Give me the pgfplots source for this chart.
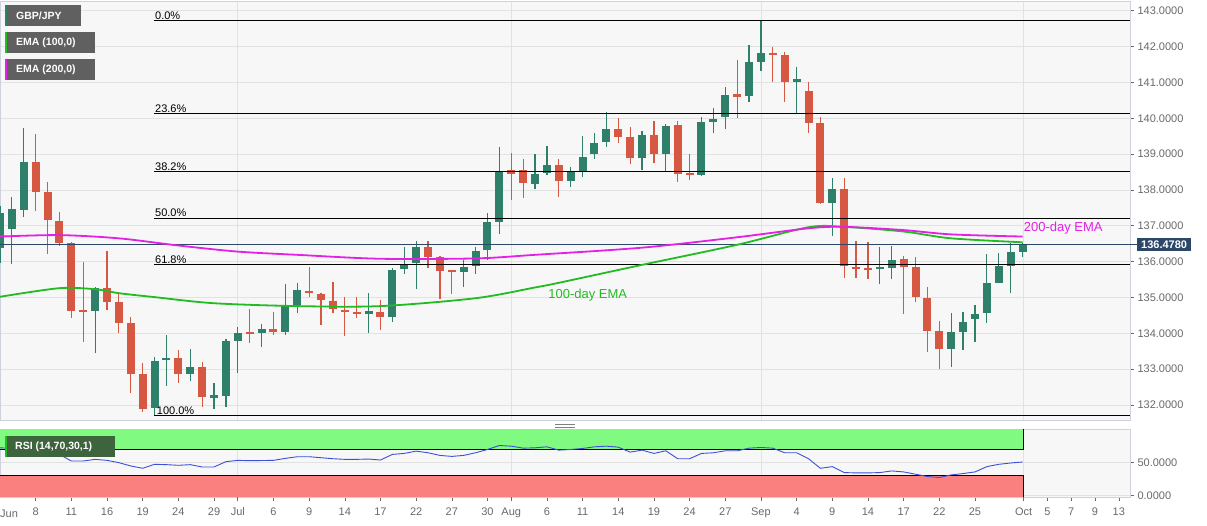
\documentclass[border=0pt]{standalone}
\usepackage{fontspec}
\setmainfont{Liberation Sans}
\usepackage{pgfplots}
\usepackage{pgfplotstable}
\pgfplotsset{compat=1.18}

\definecolor{upc}{RGB}{46,128,106}
\definecolor{dnc}{RGB}{214,88,66}
\definecolor{emagreen}{RGB}{34,187,34}
\definecolor{emapink}{RGB}{228,32,228}
\definecolor{bgc}{RGB}{247,247,247}
\definecolor{gridc}{RGB}{226,226,226}
\definecolor{framec}{RGB}{205,210,222}
\definecolor{tickc}{RGB}{105,105,105}
\definecolor{boxc}{RGB}{96,96,96}
\definecolor{pricebox}{RGB}{44,72,104}
\definecolor{rsiup}{RGB}{128,250,128}
\definecolor{rsidn}{RGB}{250,128,128}
\definecolor{rsiline}{RGB}{60,80,215}
\definecolor{rsibox}{RGB}{62,100,62}

\newcommand\tickfont{\fontsize{11}{13}\selectfont}
\newcommand\boxfont{\bfseries\fontsize{10.5}{12}\selectfont}

% GBP/JPY daily candles, x = session number (0 = first visible day)
\pgfplotstableread{
i o h l c
0 136.37 137.55 135.95 137.35
1 136.90 137.80 135.93 137.46
2 137.44 139.72 137.24 138.79
8 134.63 135.28 133.44 135.26
13 131.91 133.35 131.70 133.23
14 133.25 133.95 132.54 133.30
16 132.87 133.55 132.68 133.06
18 132.23 132.62 131.88 132.25
19 132.25 133.83 131.95 133.80
20 133.80 134.17 132.89 134.02
22 134.00 134.25 133.63 134.11
24 134.05 135.37 133.95 134.77
25 134.79 135.40 134.56 135.21
31 134.57 135.12 134.00 134.59
33 134.46 135.81 134.32 135.77
34 135.79 136.42 135.66 135.93
35 135.95 136.58 135.23 136.42
39 135.70 136.05 135.30 135.86
40 135.88 136.42 135.66 136.31
41 136.33 137.35 136.05 137.10
42 137.11 139.19 136.77 138.51
45 138.17 139.00 138.02 138.45
46 138.48 139.23 138.42 138.70
48 138.25 138.63 138.07 138.51
49 138.49 139.50 138.37 138.93
50 139.00 139.60 138.85 139.32
51 139.33 140.18 139.21 139.70
54 138.88 139.63 138.56 139.53
56 138.99 139.84 138.54 139.79
59 138.42 140.03 138.39 139.90
60 139.90 140.28 139.60 139.98
61 140.03 140.86 139.69 140.65
63 140.63 142.04 140.44 141.58
64 141.58 142.72 141.33 141.81
67 141.04 141.42 140.12 141.07
70 137.63 138.32 136.72 138.02
74 135.80 136.40 135.37 135.86
75 135.81 136.44 135.51 136.05
80 133.56 134.56 133.07 134.05
81 134.05 134.60 133.55 134.31
82 134.40 134.79 133.77 134.54
83 134.56 136.21 134.30 135.40
84 135.40 136.23 135.40 135.89
85 135.89 136.51 135.13 136.26
86 136.26 136.51 136.12 136.48
}\upcandles

\pgfplotstableread{
i o h l c
3 138.79 139.56 137.42 137.95
4 137.94 138.21 136.21 137.16
5 137.14 137.39 136.44 136.51
6 136.51 136.56 134.42 134.63
7 134.63 136.00 133.75 134.61
9 135.26 136.31 134.65 134.88
10 134.88 135.12 134.00 134.30
11 134.30 134.46 132.33 132.87
12 132.86 133.18 131.80 131.89
15 133.30 133.55 132.62 132.87
17 133.06 133.21 131.95 132.23
21 134.02 134.67 133.72 133.99
23 134.11 134.60 133.95 134.03
26 135.19 135.86 135.02 135.12
27 135.10 135.13 134.23 134.93
28 134.91 135.44 134.56 134.67
29 134.65 135.02 133.93 134.59
30 134.58 135.02 134.42 134.56
32 134.60 134.93 134.09 134.46
36 136.42 136.58 135.81 136.14
37 136.12 136.16 134.95 135.75
38 135.74 135.77 135.10 135.72
43 138.55 139.02 137.72 138.45
44 138.56 138.85 137.77 138.19
47 138.70 138.87 137.81 138.25
52 139.70 140.00 139.32 139.49
53 139.47 139.75 138.72 138.88
55 139.53 139.93 138.76 138.99
57 139.81 139.93 138.23 138.45
58 138.45 138.99 138.28 138.42
62 140.65 141.62 140.00 140.62
65 141.81 141.98 141.00 141.78
66 141.76 141.86 140.46 141.02
68 140.77 141.02 139.58 139.88
69 139.86 140.03 137.60 137.63
71 138.02 138.32 135.54 135.88
72 135.86 136.58 135.54 135.81
73 135.81 136.54 135.51 135.79
76 136.07 136.16 134.54 135.86
77 135.86 136.12 134.88 135.02
78 135.00 135.28 133.47 134.07
79 134.07 134.34 133.00 133.56
}\downcandles

\pgfplotstableread{
x v
0 135.02
5 135.26
8 135.23
10 135.12
13 135.01
18 134.84
25 134.76
32 134.76
40 134.98
45 135.28
47 135.41
54 135.91
62 136.47
68 136.96
71 136.97
76 136.84
80 136.65
86 136.54
}\emahundred

\pgfplotstableread{
x v
0 136.70
5 136.74
10 136.65
15 136.45
20 136.28
25 136.19
32 136.08
40 136.09
45 136.19
54 136.39
62 136.68
68 136.93
71 136.97
76 136.88
80 136.76
86 136.70
}\ematwohundred

\pgfplotstableread{
x v
0 72.5
3 70
5 62.5
6 52.5
7 52.5
8 55
9 53.5
10 50
11 45
12 41.5
13 47.5
14 47
15 46
16 47
17 43.5
18 43.5
19 51.5
20 53.5
21 53
23 53.5
24 56.5
25 59
26 59
27 57.5
28 56
29 55
30 55
31 55.5
32 54
33 62.5
34 64
35 67.5
36 65
37 61
38 59.5
39 61
40 65
41 70
42 76
43 75
44 72
45 72.5
46 74
47 69
48 70
49 71.5
50 74
51 75
52 73.5
53 66
54 69
55 64
56 68
57 56
58 56
59 64
60 65
61 68
62 68
63 72
64 73
65 72
66 65
67 65
68 56
69 41.5
70 44
71 35
72 34.5
73 34.5
74 35
75 37.5
76 36
77 32.5
78 29
79 27.5
80 31.5
81 33.5
82 36
83 44
84 47.5
85 49.5
86 51
}\rsidata

\pgfplotsset{
  chartbase/.style={
    scale only axis, width=1130pt,
    xmin=0, xmax=95.04,
    axis background/.style={fill=bgc},
    axis line style={draw=framec},
    grid style={draw=gridc, line width=0.8pt},
    tick align=outside, major tick length=4pt,
    ytick pos=right, yticklabel pos=right,
    scaled y ticks=false,
    yticklabel style={font=\tickfont, text=tickc,
      /pgf/number format/fixed, /pgf/number format/fixed zerofill,
      /pgf/number format/precision=4, /pgf/number format/assume math mode=true},
    ytick style={draw=tickc, line width=0.6pt},
  },
  candle/.style 2 args={draw=none, no markers,
    error bars/y dir=both, error bars/y explicit, error bars/error mark=none,
    error bars/error bar style={draw=#1, line width=#2}},
}

\begin{document}
\begin{tikzpicture}
\path[use as bounding box] (0,0) rectangle (1207pt,-526pt);

% ---- price panel ----
\begin{axis}[chartbase,
  at={(0pt,-1pt)}, anchor=north west, height=419pt,
  ymin=131.583, ymax=143.27,
  ytick={132,133,...,143},
  ymajorgrids, xmajorgrids,
  xtick={20,43,64,86.1}, xticklabels={},
  xtick style={draw=none},
]
% wicks
\addplot[candle={upc}{1.2pt}]
  table[x=i, y expr={(\thisrow{h}+\thisrow{l})/2}, y error expr={(\thisrow{h}-\thisrow{l})/2}] {\upcandles};
\addplot[candle={dnc}{1.2pt}]
  table[x=i, y expr={(\thisrow{h}+\thisrow{l})/2}, y error expr={(\thisrow{h}-\thisrow{l})/2}] {\downcandles};
% bodies
\addplot[candle={upc}{8pt}]
  table[x=i, y expr={(\thisrow{o}+\thisrow{c})/2}, y error expr={max(abs(\thisrow{c}-\thisrow{o})/2,0.03)}] {\upcandles};
\addplot[candle={dnc}{8pt}]
  table[x=i, y expr={(\thisrow{o}+\thisrow{c})/2}, y error expr={max(abs(\thisrow{c}-\thisrow{o})/2,0.03)}] {\downcandles};

% fibonacci retracement levels
\addplot[black, line width=1pt] coordinates {(12.95,142.72) (95.04,142.72)};
\addplot[black, line width=1pt] coordinates {(12.95,140.12) (95.04,140.12)};
\addplot[black, line width=1pt] coordinates {(12.95,138.51) (95.04,138.51)};
\addplot[black, line width=1pt] coordinates {(12.95,137.21) (95.04,137.21)};
\addplot[black, line width=1pt] coordinates {(12.95,135.92) (95.04,135.92)};
\addplot[black, line width=1pt] coordinates {(12.95,131.70) (95.04,131.70)};

% last price
\addplot[pricebox, line width=0.8pt] coordinates {(0,136.478) (95.04,136.478)};

% moving averages
\addplot[emagreen, line width=1.8pt, smooth] table[x=x, y=v] {\emahundred};
\addplot[emapink, line width=1.8pt, smooth] table[x=x, y=v] {\ematwohundred};

\begin{scope}[every node/.style={font=\tickfont, anchor=south west, inner sep=1pt}]
\node at (axis cs:12.95,142.72) {0.0\%};
\node at (axis cs:12.95,140.12) {23.6\%};
\node at (axis cs:12.95,138.51) {38.2\%};
\node at (axis cs:12.95,137.21) {50.0\%};
\node at (axis cs:12.95,135.92) {61.8\%};
\node at (axis cs:13.1,131.70) {100.0\%};
\end{scope}
\node[anchor=west, inner sep=0pt, text=emagreen, font=\fontsize{13}{15}\selectfont] at (axis cs:46.1,135.07) {100-day EMA};
\node[anchor=west, inner sep=0pt, text=emapink, font=\fontsize{13}{15}\selectfont] at (axis cs:86.1,136.93) {200-day EMA};
\coordinate (pb) at (axis cs:95.04,136.478);
\end{axis}

% ---- RSI panel ----
\begin{axis}[chartbase,
  at={(0pt,-429pt)}, anchor=north west, height=68pt,
  ymin=-2, ymax=101,
  ytick={0,50}, ymajorgrids,
  xtick pos=lower,
  xtick={3,6,9,12,15,18,20,23,26,29,32,35,38,41,43,46,49,52,55,58,61,64,67,70,73,76,79,82,86.1,88.1,90.1,92.1,94.1},
  xticklabels={8,11,16,19,24,29,Jul,6,9,14,17,22,27,30,Aug,6,11,14,19,24,27,Sep,4,9,14,17,22,25,Oct,5,7,9,13},
  xticklabel style={font=\tickfont, text=tickc, yshift=-3pt},
  xtick style={draw=tickc, line width=0.6pt},
  extra x ticks={20,43,64,86.1}, extra x tick labels={},
  extra x tick style={grid=major},
]
\addplot[fill=rsiup, draw=none] coordinates {(0,70) (86.1,70) (86.1,101) (0,101)} -- cycle;
\addplot[fill=rsidn, draw=none] coordinates {(0,-2) (86.1,-2) (86.1,30) (0,30)} -- cycle;
\addplot[black, line width=0.8pt] coordinates {(0,70) (86.1,70) (86.1,101)};
\addplot[black, line width=0.8pt] coordinates {(0,30) (86.1,30) (86.1,-2)};
\addplot[rsiline, line width=0.9pt] table[x=x, y=v] {\rsidata};
\end{axis}

% ---- overlays ----
\node[anchor=west, inner sep=0pt, font=\tickfont, text=tickc] at (0pt,-514pt) {Jun};

\node[anchor=west, fill=pricebox, text=white, font=\bfseries\tickfont,
  inner xsep=4pt, inner ysep=2pt, minimum height=13pt] at ([xshift=7pt]pb) {136.4780};
\draw[pricebox, line width=0.8pt] (pb) -- ++(7pt,0);

\fill[boxc] (5pt,-5pt) rectangle (81pt,-26pt);
\fill[upc] (5pt,-5pt) rectangle (7pt,-26pt);
\node[anchor=west, inner sep=0pt, text=white, font=\boxfont] at (16pt,-15.5pt) {GBP/JPY};

\fill[boxc] (5pt,-32pt) rectangle (95pt,-53pt);
\fill[emagreen] (5pt,-32pt) rectangle (7pt,-53pt);
\node[anchor=west, inner sep=0pt, text=white, font=\boxfont] at (16pt,-42.5pt) {EMA (100,0)};

\fill[boxc] (5pt,-59pt) rectangle (95pt,-80pt);
\fill[emapink] (5pt,-59pt) rectangle (7pt,-80pt);
\node[anchor=west, inner sep=0pt, text=white, font=\boxfont] at (16pt,-69.5pt) {EMA (200,0)};

\fill[rsibox] (5pt,-436pt) rectangle (115pt,-457pt);
\fill[emagreen] (5pt,-436pt) rectangle (7pt,-457pt);
\node[anchor=west, inner sep=0pt, text=white, font=\boxfont] at (15pt,-446.5pt) {RSI (14,70,30,1)};

\draw[gray, line width=0.6pt] (555pt,-424.5pt) -- (575pt,-424.5pt);
\draw[gray, line width=0.6pt] (555pt,-426.8pt) -- (575pt,-426.8pt);
\end{tikzpicture}
\end{document}
